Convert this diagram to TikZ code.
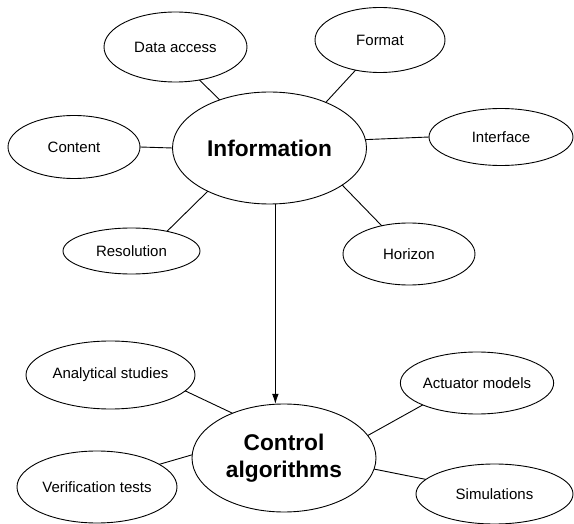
\documentclass[tikz,border=0pt]{standalone}
\usepackage{fontspec}
\setmainfont{Liberation Sans}
\usetikzlibrary{shapes.geometric,arrows.meta}
\begin{document}
\begin{tikzpicture}[x=1pt,y=-1pt,
  bubble/.style={draw,ellipse,line width=0.9pt,inner sep=0pt,outer sep=0pt,font=\fontsize{15}{18}\selectfont},
  hub/.style={bubble,font=\fontsize{22.7}{27}\selectfont\bfseries,align=center},
  link/.style={line width=0.9pt}]
\useasboundingbox (0,0) rectangle (574,524);
\node[hub,minimum width=194pt,minimum height=112pt] (info) at (269.5,148) {Information};
\node[hub,minimum width=184pt,minimum height=108pt] (ctrl) at (284,458) {Control\\algorithms};
\node[bubble,minimum width=143pt,minimum height=70pt] (data) at (175.5,47) {Data access};
\node[bubble,minimum width=130pt,minimum height=65pt] (format) at (380,40) {Format};
\node[bubble,minimum width=132pt,minimum height=63pt] (content) at (74,147) {Content};
\node[bubble,minimum width=144pt,minimum height=57pt] (iface) at (501,137) {Interface};
\node[bubble,minimum width=137pt,minimum height=46pt] (res) at (131.5,251) {Resolution};
\node[bubble,minimum width=132pt,minimum height=62pt] (hor) at (409,254) {Horizon};
\node[bubble,minimum width=169pt,minimum height=68pt] (anal) at (110.5,375) {Analytical studies};
\node[bubble,minimum width=160pt,minimum height=72pt] (verif) at (97,487) {Verification tests};
\node[bubble,minimum width=144pt,minimum height=62pt] (act) at (477,383) {Actuator models};
\node[bubble,minimum width=157pt,minimum height=60pt] (sim) at (494.5,494) {Simulations};
\draw[link] (data.-54) -- (info.136.7);
\draw[link] (content.0) -- (info.180);
\draw[link] (res.29.3) -- (info.215.5);
\draw[link] (format.231) -- (info.39.9);
\draw[link] (iface.180) -- (info.5.9);
\draw[link] (hor.134) -- (info.-27.2);
\draw[link] (anal.-12.5) -- (ctrl.139);
\draw[link] (verif.20.9) -- (ctrl.178);
\draw[link] (act.202.9) -- (ctrl.15);
\draw[link] (sim.168.7) -- (ctrl.-7.6);
\draw[link,-{Latex[length=10pt,width=6.5pt]}] (info.-84) -- (info.-84 |- ctrl.north);
\end{tikzpicture}
\end{document}
